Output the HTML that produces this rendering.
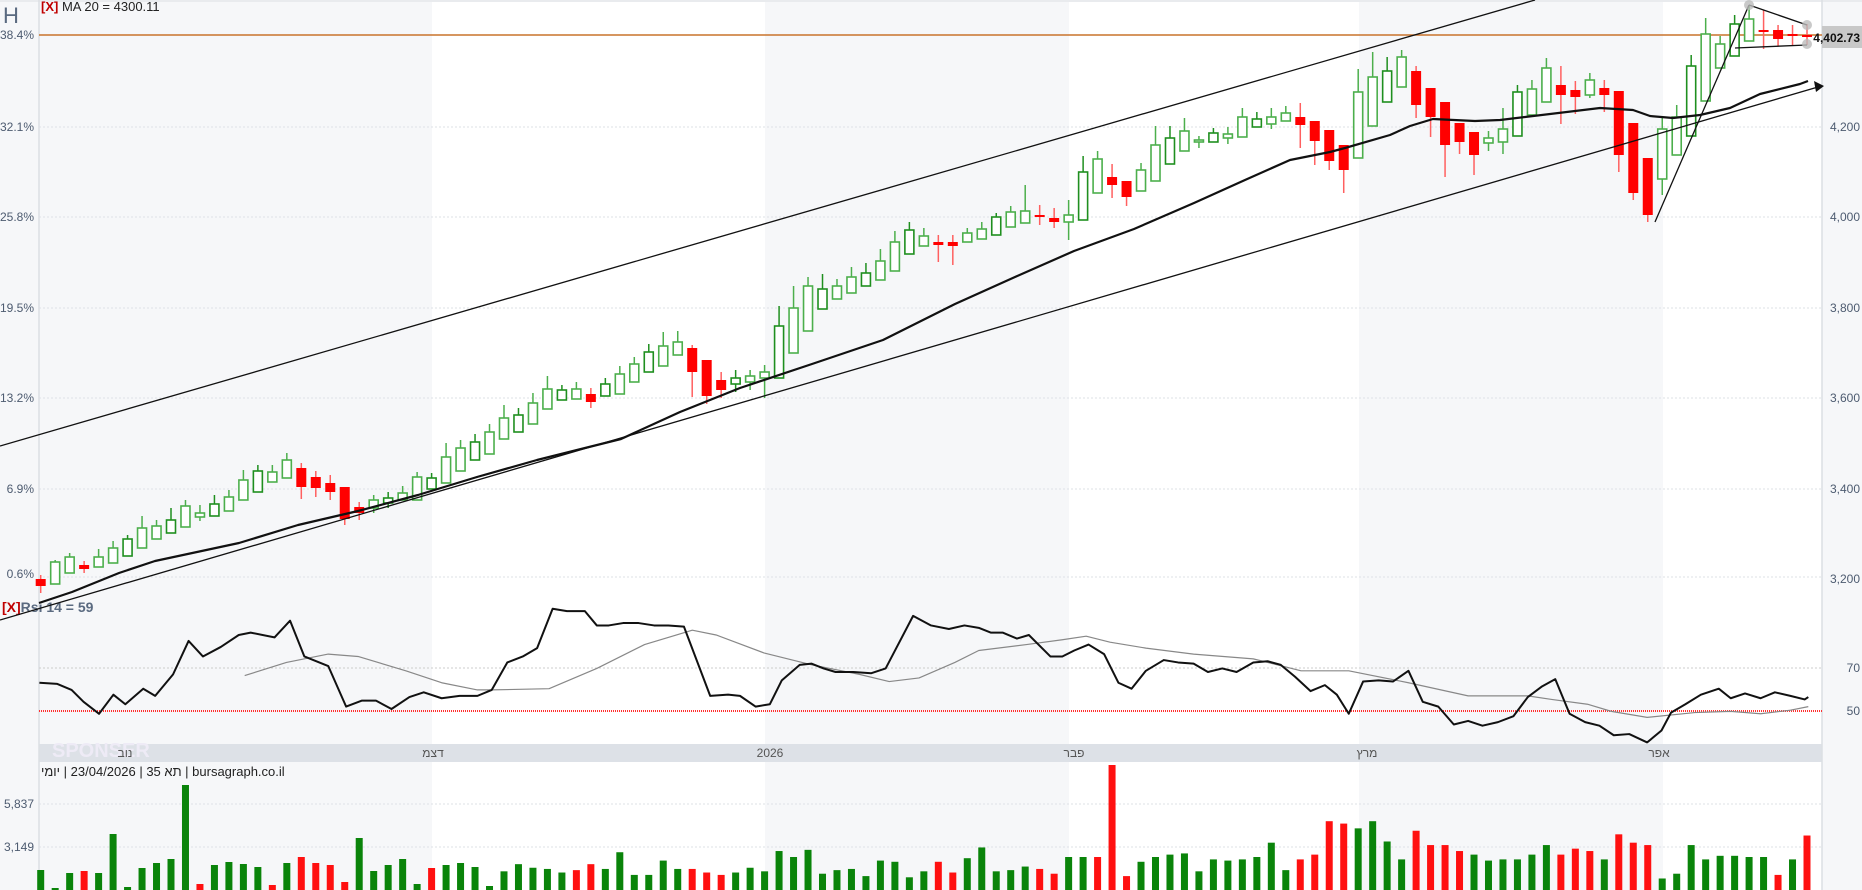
<!DOCTYPE html>
<html><head><meta charset="utf-8"><style>
html,body{margin:0;padding:0;background:#f6f7f9;}
svg{display:block;font-family:"Liberation Sans","Noto Sans CJK JP",sans-serif;}
#vl{position:absolute;left:41px;top:764px;font:13px "Liberation Sans","Noto Sans CJK JP",sans-serif;color:#222;direction:ltr;white-space:nowrap;}
#vl span{unicode-bidi:isolate;}
</style></head><body>
<svg id="s" width="1862" height="890" xmlns="http://www.w3.org/2000/svg">
<rect x="0" y="0" width="1862" height="890" fill="#f6f7f9"/>
<g id="bands"></g>
<rect x="39" y="744" width="1783" height="18" fill="#dde1e7"/>
<line x1="39" y1="0" x2="39" y2="890" stroke="#dcdfe4" stroke-width="1.5"/>
<line x1="1822" y1="0" x2="1822" y2="890" stroke="#dcdfe4" stroke-width="1.5"/>
<line x1="0" y1="1" x2="1862" y2="1" stroke="#dcdfe4"/>
<g id="grid" stroke="#dde0e6" stroke-dasharray="2,2" stroke-width="1"></g>
<text x="3" y="23" font-size="22" fill="#5a6a80">H</text>
<text x="41" y="11" font-size="13"><tspan fill="#c00000" font-weight="bold">[X]</tspan><tspan fill="#222"> MA 20 = 4300.11</tspan></text>
<g font-size="12" fill="#4d5b70" text-anchor="end">
<text x="34" y="39">38.4%</text><text x="34" y="131">32.1%</text><text x="34" y="221">25.8%</text>
<text x="34" y="312">19.5%</text><text x="34" y="402">13.2%</text><text x="34" y="493">6.9%</text><text x="34" y="578">0.6%</text>
<text x="34" y="808">5,837</text><text x="34" y="851">3,149</text>
</g>
<g font-size="12" fill="#4d5b70" text-anchor="end">
<text x="1860" y="131">4,200</text><text x="1860" y="221">4,000</text><text x="1860" y="312">3,800</text>
<text x="1860" y="402">3,600</text><text x="1860" y="493">3,400</text><text x="1860" y="583">3,200</text>
<text x="1860" y="672">70</text><text x="1860" y="715">50</text>
</g>
<text x="52" y="757" font-size="20" font-weight="bold" fill="#eeebf6">SPONSER</text>
<g font-size="12" fill="#555" text-anchor="middle">
<text x="125" y="757">נוב</text><text x="433" y="757">דצמ</text><text x="770" y="757">2026</text>
<text x="1074" y="757">פבר</text><text x="1367" y="757">מרץ</text><text x="1659" y="757">אפר</text>
</g>
<text x="2" y="612" font-size="14" font-weight="bold"><tspan fill="#c00000">[X]</tspan><tspan fill="#5a6a80">Rsi 14 = 59</tspan></text>
<line x1="39" y1="668" x2="1822" y2="668" stroke="#ccc" stroke-dasharray="2,2"/>
<line x1="39" y1="711" x2="1822" y2="711" stroke="#ff3030" stroke-width="2" stroke-dasharray="1,1"/>
<line x1="39" y1="35" x2="1822" y2="35" stroke="#c8742c" stroke-width="1.5"/>
<g id="vol"></g>
<g id="cand"></g>
<g id="lines" fill="none"></g>
<rect x="1822" y="26" width="40" height="22" fill="#c8c8c8"/>
<text x="1860" y="42" font-size="12" font-weight="bold" fill="#111" text-anchor="end">4,402.73</text>
</svg>
<div id="vl"><span dir="rtl">יומי</span> | 23/04/2026 | <span dir="rtl">תא 35</span> | bursagraph.co.il</div>
<script>
var NS="http://www.w3.org/2000/svg";
function el(p,t,a){var e=document.createElementNS(NS,t);for(var k in a)e.setAttribute(k,a[k]);document.getElementById(p).appendChild(e);return e;}
[[39,432,'#f6f7f9'],[432,765,'#ffffff'],[765,1069,'#f6f7f9'],[1069,1359,'#ffffff'],[1359,1663,'#f6f7f9'],[1663,1822,'#ffffff']].forEach(function(b){el('bands','rect',{x:b[0],y:2,width:b[1]-b[0],height:888,fill:b[2]});});
[35,127,217,308,398,489,577,804,847].forEach(function(y){el('grid','line',{x1:39,y1:y,x2:1822,y2:y});});
var X=function(i){return 40.7+i*14.478;};
var C=[[579,586,575,593,'r'],[562,584,560,584,'g'],[557,573,553,573,'g'],[565,569,561,573,'r'],[557,567,549,567,'g'],[548,563,541,563,'g'],[539,556,535,556,'g'],[528,548,516,548,'g'],[526,539,520,539,'g'],[520,533,508,533,'g'],[506,527,500,527,'g'],[513,517,505,521,'g'],[504,516,495,516,'g'],[497,511,490,511,'g'],[480,500,470,500,'g'],[471,492,465,492,'g'],[472,482,465,482,'g'],[460,478,453,478,'g'],[468,487,463,499,'r'],[477,488,471,497,'r'],[483,492,475,500,'r'],[487,519,487,525,'r'],[507,513,502,520,'r'],[500,508,495,513,'g'],[498,503,492,508,'g'],[493,500,486,500,'g'],[477,500,472,500,'g'],[478,489,473,489,'g'],[457,483,443,483,'g'],[448,471,440,471,'g'],[442,460,434,460,'g'],[432,454,424,454,'g'],[418,439,405,439,'g'],[415,432,408,432,'g'],[403,424,393,424,'g'],[389,409,376,409,'g'],[390,400,385,400,'g'],[389,399,382,399,'g'],[394,402,388,408,'r'],[384,396,378,396,'g'],[374,394,366,394,'g'],[364,382,357,382,'g'],[352,372,344,372,'g'],[346,366,332,366,'g'],[342,355,331,355,'g'],[348,372,345,397,'r'],[360,396,360,404,'r'],[380,390,372,398,'r'],[378,384,370,392,'g'],[376,382,370,390,'g'],[372,378,365,398,'g'],[326,378,306,378,'g'],[308,353,286,353,'g'],[286,331,277,331,'g'],[289,309,274,309,'g'],[286,299,279,299,'g'],[277,293,267,293,'g'],[273,286,263,286,'g'],[261,280,249,280,'g'],[242,271,231,271,'g'],[230,254,222,254,'g'],[236,246,228,246,'g'],[242,245,235,262,'r'],[242,246,235,265,'r'],[233,242,228,242,'g'],[229,239,222,239,'g'],[217,235,213,235,'g'],[212,227,206,227,'g'],[211,223,185,223,'g'],[215,217,205,225,'r'],[218,222,208,228,'r'],[215,222,200,240,'g'],[172,220,156,220,'g'],[159,193,151,193,'g'],[177,185,164,198,'r'],[181,197,181,206,'r'],[170,191,163,191,'g'],[145,181,126,181,'g'],[138,164,126,164,'g'],[131,151,118,151,'g'],[140,142,136,148,'g'],[133,142,128,142,'g'],[134,138,127,144,'g'],[117,137,108,137,'g'],[119,127,112,127,'g'],[117,124,108,129,'g'],[113,121,106,121,'g'],[117,125,103,148,'r'],[121,141,121,165,'r'],[130,161,130,170,'r'],[145,170,145,193,'r'],[92,158,69,158,'g'],[77,126,52,126,'g'],[71,102,57,102,'g'],[57,87,50,87,'g'],[71,105,66,118,'r'],[88,117,88,137,'r'],[102,145,102,177,'r'],[123,142,123,154,'r'],[132,155,132,175,'r'],[138,143,131,151,'g'],[129,142,108,154,'g'],[92,136,85,136,'g'],[89,115,80,115,'g'],[68,102,58,102,'g'],[85,95,66,124,'r'],[90,97,81,114,'r'],[80,95,73,98,'g'],[88,95,80,112,'r'],[91,155,91,172,'r'],[123,193,123,200,'r'],[158,215,158,222,'r'],[129,179,116,195,'g'],[117,155,105,155,'g'],[66,136,55,136,'g'],[34,101,18,101,'g'],[44,68,36,68,'g'],[24,56,15,56,'g'],[19,41,6,41,'g'],[30,31,10,49,'r'],[30,39,25,46,'r'],[34,36,25,45,'r'],[35,36,24,45,'r']];
C.forEach(function(c,i){var x=X(i),g=c[4]=='g',col=g?(i%3==0?'#1f8f1f':'#4caf4c'):'#ff1a1a';
el('cand','line',{x1:x,y1:c[2],x2:x,y2:c[3],stroke:g?col:'#ff6060','stroke-width':1.5});
var h=Math.max(c[1]-c[0],2);
if(g)el('cand','rect',{x:x-4.5,y:c[0],width:9,height:h,fill:'#fff',stroke:col,'stroke-width':1.6});
else el('cand','rect',{x:x-5,y:c[0],width:10,height:h,fill:'#ff0000'});});
var V1=[870,888,873,871,873,834,887,868,863,859,785,884,865,862,864,867,885,863,857,863,865,882,838,871,865,859,884,868,865,863,867,886];
var C1="gggrgggggggrggggrgrrrrgggggrgggg";
var P="730g 724g 727g 728g 731g 729r 724r 728g 714g 733g 733g 721g 728g 728r 731r 733r 731g 727g 730g 713g 718g 712g 732g 729g 728g 734g 721g 722g 735g 730g 722r 731r 719g 710g 730g 729g 726g 728r 732r 718g 718g 718r 640r 734r 722g 718g 716g 715g 730g 720g 721g 720g 718g 706g 729g 720r 716r 688r 690r 694g 688g 705g 720g 696r 708r 708r 713r 716g 721g 720g 720g 716g 708g 716r 711r 713r 720g 699r 706r 708r 736g 732g 708g 720g 717g 717g 718g 718g 733r 720g 700r".split(' ');
var VT=[],VC=[];for(var i=0;i<32;i++){VT.push(V1[i]);VC.push(C1[i]);}
P.forEach(function(p){VT.push(Math.max(765,parseFloat(p)*1.1936));VC.push(p.slice(-1));});
var n=VT.length;for(var i=0;i<n;i++){var x=40.7+i*(1766.3/(n-1));el('vol','rect',{x:x-3.5,y:VT[i],width:7,height:890-VT[i],fill:VC[i]=='g'?'#0a840a':'#ff1010'});}
function pl(pts,st,w,sc){var s=pts.map(function(p){return (sc?p[0]*1.1936:p[0])+','+(sc?p[1]*1.1936:p[1]);}).join(' ');el('lines','polyline',{points:s,stroke:st,'stroke-width':w,fill:'none','stroke-linejoin':'round'});}
el('lines','line',{x1:0,y1:446,x2:1535,y2:0,stroke:'#111','stroke-width':1.3});
el('lines','line',{x1:0,y1:620,x2:1818,y2:87,stroke:'#111','stroke-width':1.3});
el('lines','path',{d:'M1814,81 L1824,86 L1816,92 Z',fill:'#111'});
el('lines','line',{x1:1655,y1:222,x2:1749,y2:5,stroke:'#111','stroke-width':1.3});
el('lines','line',{x1:1749,y1:5,x2:1807,y2:25,stroke:'#111','stroke-width':1.3});
el('lines','line',{x1:1735,y1:48,x2:1807,y2:45,stroke:'#111','stroke-width':1.3});
[[1749,5],[1807,25],[1807,44]].forEach(function(p){el('lines','circle',{cx:p[0],cy:p[1],r:5,fill:'#bbb','fill-opacity':0.8});});
pl([[39,603],[72,592],[119,573],[155,561],[239,543],[298,525],[358,511],[418,495],[477,477],[537,460],[621,439],[680,412],[740,388],[812,364],[883,340],[955,304],[1015,277],[1074,251],[1134,229],[1194,203],[1245,180],[1290,160],[1330,152],[1345,148],[1390,135],[1410,126],[1433,119],[1475,121],[1500,120],[1600,108],[1633,110],[1650,116],[1673,118],[1700,115],[1730,108],[1760,94],[1800,84],[1808,81]],'#111',2.2,false);
pl([[205,566],[240,555],[275,548],[300,550],[340,562],[370,572],[400,578],[412,578],[460,577],[500,560],[540,540],[580,528],[600,532],[640,547],[680,557],[720,565],[745,571],[770,568],[800,555],[820,545],[860,540],[890,536],[910,533],[930,538],[960,543],[1000,548],[1050,552],[1090,562],[1130,562],[1180,572],[1230,583],[1280,583],[1300,586],[1330,590],[1350,596],[1380,601],[1420,597],[1450,596],[1475,598],[1500,595],[1515,592]],'#888',1.2,true);
pl([[33,572],[48,573],[60,578],[70,588],[83,598],[95,582],[105,590],[120,577],[130,583],[145,565],[158,537],[170,550],[185,542],[200,532],[210,530],[230,534],[243,520],[255,550],[275,558],[290,592],[303,587],[315,587],[328,594],[343,584],[355,580],[370,585],[385,583],[400,583],[412,578],[425,555],[438,550],[450,543],[463,510],[475,512],[490,512],[500,524],[510,524],[522,522],[535,522],[548,524],[560,524],[573,525],[595,583],[610,582],[620,583],[633,592],[645,590],[655,570],[670,557],[680,556],[690,560],[700,563],[715,563],[730,564],[742,560],[765,516],[780,524],[795,527],[808,524],[820,526],[830,530],[840,530],[852,535],[862,532],[880,550],[890,550],[900,545],[912,540],[925,548],[937,572],[948,577],[960,562],[975,553],[987,555],[1000,556],[1012,563],[1024,560],[1036,563],[1050,555],[1062,554],[1073,557],[1085,567],[1098,579],[1110,574],[1120,582],[1130,598],[1142,571],[1155,570],[1167,571],[1180,562],[1192,588],[1205,592],[1218,607],[1230,604],[1242,608],[1255,605],[1268,600],[1280,584],[1292,575],[1303,569],[1315,598],[1328,605],[1340,608],[1352,616],[1365,615],[1380,622],[1392,612],[1400,597],[1412,590],[1425,582],[1440,577],[1450,585],[1462,581],[1475,585],[1487,580],[1500,583],[1512,586],[1515,584]],'#111',2,true);
</script>
</body></html>
